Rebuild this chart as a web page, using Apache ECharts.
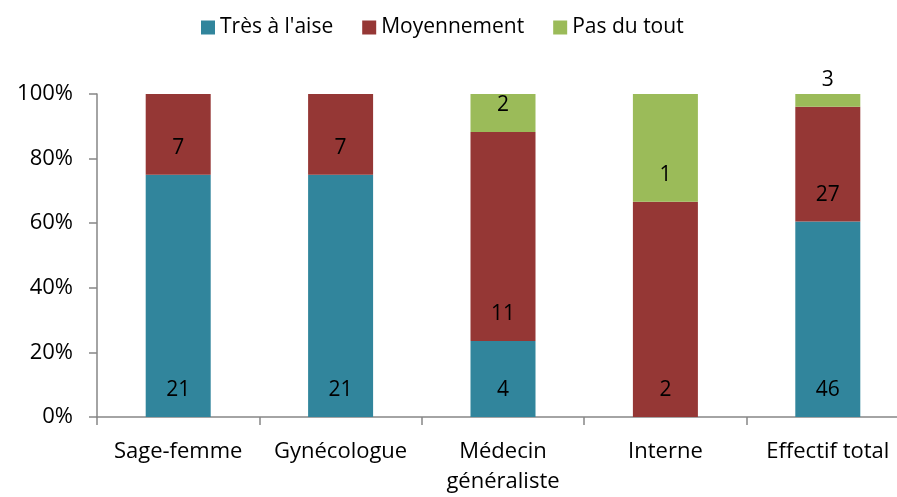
<!DOCTYPE html>
<html><head><meta charset="utf-8">
<script src="https://cdn.jsdelivr.net/npm/echarts@6/dist/echarts.min.js"></script>
<style>html,body{margin:0;padding:0;background:#fff;overflow:hidden}#c{width:912px;height:497px}</style>
</head><body><div id="c"></div>
<script>
const categories = ['Sage-femme', 'Gynécologue', 'Médecin\ngénéraliste', 'Interne', 'Effectif total'];
const seriesNames = ['Très à l\'aise', 'Moyennement', 'Pas du tout'];
const tresAlAise = [21, 21, 4, 0, 46];
const moyennement = [7, 7, 11, 2, 27];
const pasDuTout = [0, 0, 2, 1, 3];
const yTicks = [0, 20, 40, 60, 80, 100];

const counts = [tresAlAise, moyennement, pasDuTout];
const colors = ['#31859C', '#953735', '#9BBB59'];
const totals = categories.map((_, i) => counts.reduce((s, arr) => s + arr[i], 0));
const FONT = 'Open Sans';

const chart = echarts.init(document.getElementById('c'), null, {renderer: 'canvas'});
chart.setOption({
  animation: false,
  textStyle: {fontFamily: FONT},
  legend: {
    top: 12, left: 196,
    itemWidth: 14, itemHeight: 14, itemGap: 29,
    icon: 'rect',
    textStyle: {fontFamily: FONT, fontSize: 21, color: '#000'},
    data: seriesNames
  },
  grid: {left: 97, top: 94, width: 812, height: 326, containLabel: false},
  xAxis: {
    type: 'category', data: categories,
    axisLine: {lineStyle: {color: '#868686', width: 1.5}},
    axisTick: {show: true, length: 8, lineStyle: {color: '#868686', width: 1.5}},
    axisLabel: {fontFamily: FONT, fontSize: 22, color: '#000', margin: 20, lineHeight: 30, interval: 0}
  },
  yAxis: {
    type: 'value', min: 0, max: 100, interval: 20,
    splitLine: {show: false},
    axisLine: {show: true, lineStyle: {color: '#868686', width: 1.5}},
    axisTick: {show: true, length: 8, lineStyle: {color: '#868686', width: 1.5}},
    axisLabel: {fontFamily: FONT, fontSize: 22, color: '#000', margin: 24,
      formatter: v => yTicks.includes(v) ? v + '%' : ''}
  },
  series: counts.map((arr, k) => ({
    name: seriesNames[k],
    type: 'bar',
    stack: 'total',
    barWidth: 65,
    itemStyle: {color: colors[k]},
    data: arr.map((v, i) => ({value: v / totals[i] * 100, count: v})),
    label: {
      show: true,
      position: 'insideBottom',
      distance: 16,
      fontFamily: FONT, fontSize: 21, color: '#000',
      formatter: p => p.data.count ? String(p.data.count) : ''
    }
  }))
});
</script></body></html>
